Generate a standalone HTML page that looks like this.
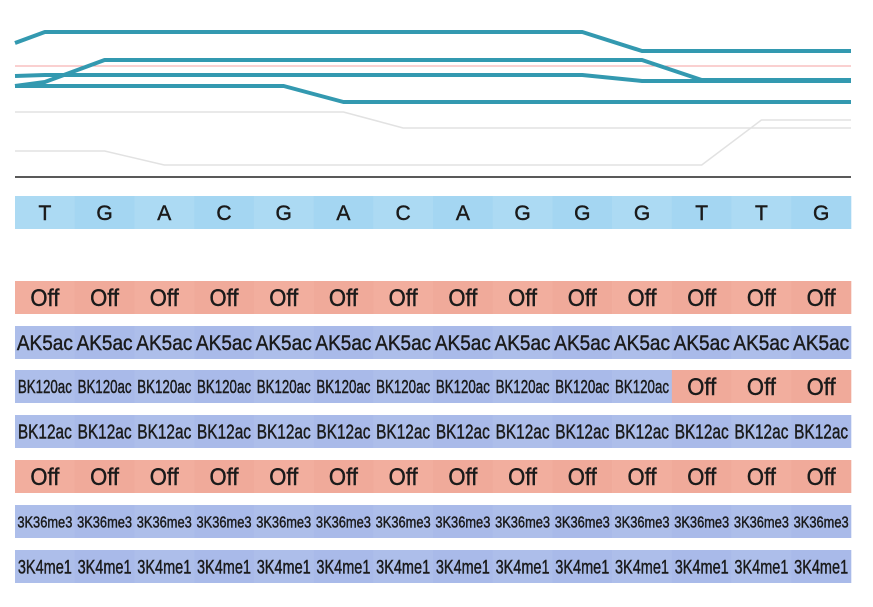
<!DOCTYPE html>
<html><head><meta charset="utf-8"><style>
html,body{margin:0;padding:0;background:#fff;width:873px;height:607px;overflow:hidden}
svg text{font-family:"Liberation Sans",sans-serif;fill:#1a1a1a;stroke:#1a1a1a;stroke-width:0.45}
</style></head><body>
<svg id="chart" width="873" height="607" xmlns="http://www.w3.org/2000/svg"></svg>
<script>
const bases = ["T","G","A","C","G","A","C","A","G","G","G","T","T","G"];
const tealA = [43,32,32,32,32,32,32,32,32,32,32,51,51,51,51];
const tealB = [86,82,60,60,60,60,60,60,60,60,60,60,80,80,80];
const tealC = [76,75,75,75,75,75,75,75,75,75,75,81,81,81,81];
const tealD = [86,86,86,86,86,86,102,102,102,102,102,102,102,102,102];
const redLine = [66,66,66,66,66,66,66,66,66,66,66,66,66,66,66];
const grayA = [112,112,112,112,112,112,112,128,128,128,128,128,128,128,128];
const grayB = [151,151,151,165,165,165,165,165,165,165,165,165,165,120,120];
const rowLabels = ["Off","AK5ac","BK120ac","BK12ac","Off","3K36me3","3K4me1"];
const rowOnCount = [0,14,11,14,0,14,14];

const svg = document.getElementById('chart');
const NS = "http://www.w3.org/2000/svg";
const x0 = 15, x1 = 851, n = bases.length, cw = (x1-x0)/n;
const colX = i => x0 + cw*i + cw/2;

function mk(tag, attrs){const e=document.createElementNS(NS,tag);for(const k in attrs)e.setAttribute(k,attrs[k]);svg.appendChild(e);return e;}

function drawLine(vals, color, w, name){
  const pts = [[x0, vals[0]]];
  for(let i=0;i<n;i++) pts.push([colX(i), vals[i+1]]);
  pts.push([x1, vals[n]]);
  const p = mk('polyline',{points:pts.map(p=>p.join(',')).join(' '),fill:'none',stroke:color,'stroke-width':w,'stroke-linejoin':'round'});
  
  
}
drawLine(grayA,'#e2e2e2',1.5,'gray-track-1');
drawLine(grayB,'#e2e2e2',1.5,'gray-track-2');
drawLine(redLine,'#f4a0a0',1,'red-reference-line');
drawLine(tealA,'#3399b0',4,'teal-track-1');
drawLine(tealB,'#3399b0',4,'teal-track-2');
drawLine(tealC,'#3399b0',4,'teal-track-3');
drawLine(tealD,'#3399b0',4,'teal-track-4');
const ax = mk('line',{x1:x0,x2:x1,y1:177,y2:177,stroke:'#222','stroke-width':1.5});



function cell(i, y, h, fill, label, fs, tl, name){
  const r = mk('rect',{x:x0+cw*i,y:y,width:cw+0.3,height:h,fill:fill});
  
  
  const a = {x:colX(i),y:y+h/2+fs*0.36,'font-size':fs,'text-anchor':'middle'};
  if(tl){a.textLength=tl;a.lengthAdjust='spacingAndGlyphs';}
  const t = mk('text',a);
  t.textContent = label;
  
  
}
for(let i=0;i<n;i++) cell(i,196,33,i%2?'#a4d6f2':'#acdaf3',bases[i],21,0,'base-'+i);

const rowY = [281,326,370,415,460,505,550];
const fsz = {"Off":24,"AK5ac":21,"BK120ac":18,"BK12ac":20,"3K36me3":16,"3K4me1":19};
const tlz = {"Off":29,"AK5ac":56,"BK120ac":54,"BK12ac":54,"3K36me3":55,"3K4me1":54};
for(let r=0;r<rowLabels.length;r++){
  for(let i=0;i<n;i++){
    const on = i < rowOnCount[r] && rowLabels[r] !== "Off";
    const lab = on ? rowLabels[r] : "Off";
    const fill = on ? (i%2?'#a9bae9':'#adbeea') : (i%2?'#f0aa9a':'#f2ae9e');
    cell(i,rowY[r],33,fill,lab,fsz[lab],tlz[lab],'mark-row'+r+'-'+i);
  }
}
</script>
</body></html>
